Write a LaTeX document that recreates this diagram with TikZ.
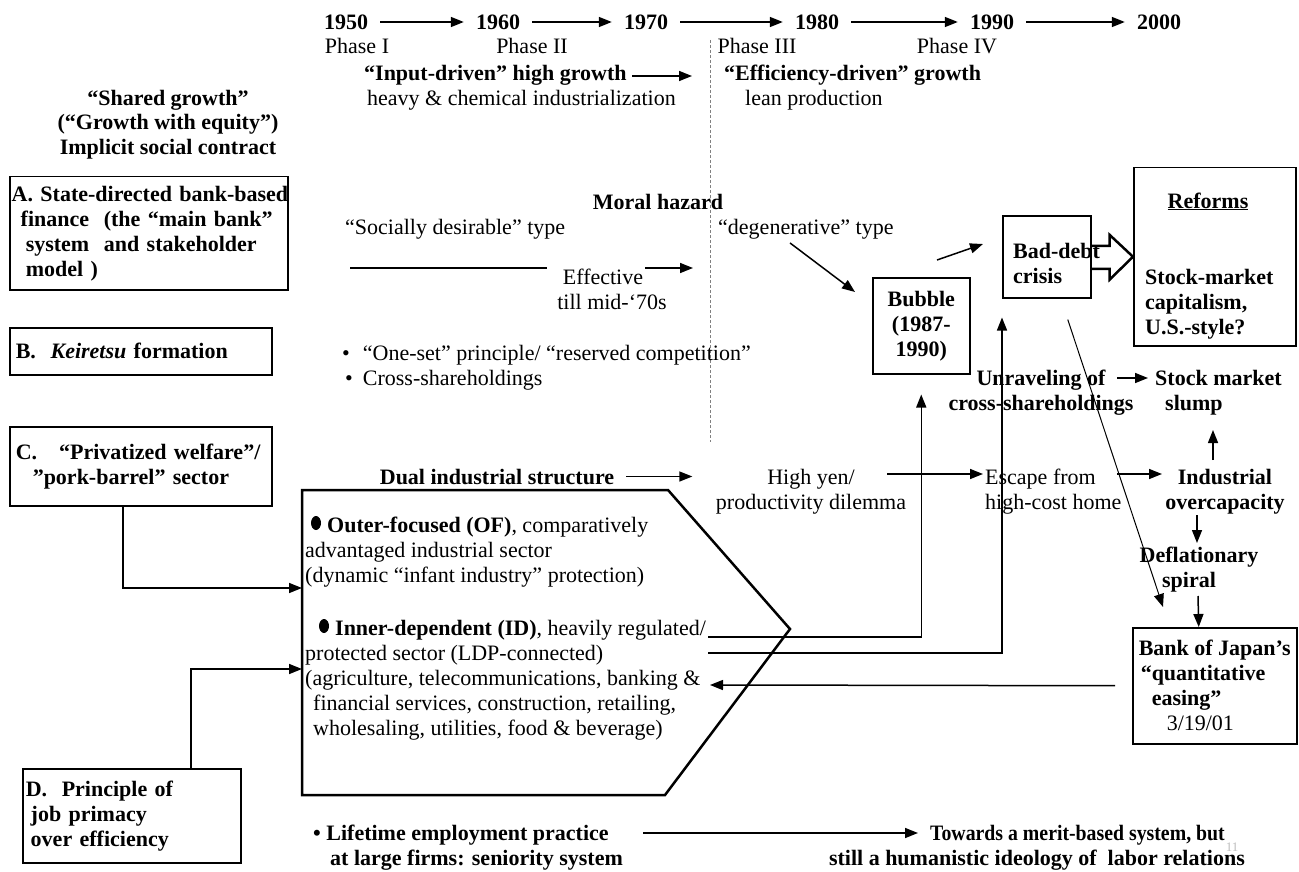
\documentclass[tikz,border=0pt]{standalone}
\usepackage{graphicx}
\usepackage{fontspec}
\setmainfont{Liberation Serif}
\usetikzlibrary{arrows.meta,calc}

\tikzset{
  txt/.style={inner sep=0pt, font=\fontsize{22}{25}\selectfont},
  btxt/.style={txt, font=\fontsize{22}{25}\selectfont\bfseries},
  box/.style={draw, line width=1.5pt},
  lbox/.style={box, btxt, anchor=north west, align=left, inner xsep=3pt},
  yearlbl/.style={btxt, inner xsep=12pt},
  arr/.style={line width=1.5pt, -{Triangle[length=13pt,width=10pt]}},
  thinarr/.style={line width=1pt, -{Triangle[length=13pt,width=10pt]}},
  plain/.style={line width=1.5pt},
}

\begin{document}
\begin{tikzpicture}[x=1pt,y=-1pt]
\useasboundingbox[fill=white] (0,0) rectangle (1299,872);

% time line
\foreach \yr/\xx in {1950/346,1960/498,1970/646,1980/817,1990/992,2000/1159}
  \node[yearlbl] (t\yr) at (\xx,22) {\yr};
\foreach \a/\b in {1950/1960,1960/1970,1970/1980,1980/1990,1990/2000}
  \draw[arr] (t\a) -- (t\b);
\node[txt, anchor=base] (ph1) at (357,54) {Phase I};
\node[txt, anchor=base] (ph2) at (532,54) {Phase II};
\node[txt, anchor=base] (ph3) at (757,54) {Phase III};
\node[txt, anchor=base] (ph4) at (957,54) {Phase IV};
\draw[gray, densely dashed, line width=0.8pt] (710,40) -- (710,442);

% multi-line nodes sit on the baseline of their last line
\node[txt, anchor=base west, align=left] (inp) at (364,106)
  {\textbf{“Input-driven” high growth}\\\hspace*{3pt}heavy \& chemical industrialization};
\draw[arr] ($(inp.base west)+(268,-30)$) -- ++(60,0);
\node[txt, anchor=base west, align=left] (eff) at (724,106)
  {\textbf{“Efficiency-driven” growth}\\\hspace*{21pt}lean production};

\node[btxt, anchor=base, align=center] (shared) at (168,155)
  {“Shared growth”\\(“Growth with equity”)\\Implicit social contract};

% the four institutional boxes
\node[lbox, text width=274pt, inner xsep=2pt, minimum height=113pt] (boxA) at (9,176)
  {\mbox{A.\ State-directed bank-based}\\
   \hspace*{9pt}finance\ \ (the “main bank”\\
   \hspace*{14pt}system\ \ and stakeholder\\
   \hspace*{14pt}model )};
\node[lbox, text width=256pt, minimum height=47pt] (boxB) at (9,327)
  {\hspace*{3pt}B.\ \ \textit{Keiretsu} formation};
\node[lbox, text width=256pt, minimum height=79pt] (boxC) at (9,426)
  {\hspace*{3pt}C.\ \ \ “Privatized welfare”/\\\hspace*{20pt}”pork-barrel” sector};
\node[lbox, text width=212pt, minimum height=94pt] (boxD) at (22,768)
  {D.\ \ Principle of\\\hspace*{5pt}job primacy\\\hspace*{5pt}over efficiency};

% finance row
\node[btxt, anchor=base] (moral) at (658,209) {Moral hazard};
\node[txt, anchor=base west] (socdes) at (345,234) {“Socially desirable” type};
\node[txt, anchor=base west] (degen) at (718,234) {“degenerative” type};
\node[txt, anchor=base, align=center] (effect) at (603,309) {Effective\\\hspace*{18pt}till mid-‘70s};
\draw[plain] ($(socdes.base west)+(5,34)$) -- ++(197,0);
\draw[arr] ($(effect.base)+(42,-41)$) -- ++(48,0);

\node[txt, anchor=base west, align=left] (keir) at (342,385)
  {\textbullet\hspace{13pt}“One-set” principle/ “reserved competition”\\
   \hspace*{3pt}\textbullet\hspace{10pt}Cross-shareholdings};

% crisis part
\node[box, btxt, align=center, minimum width=97pt, minimum height=96pt, anchor=north west] (bubble) at (872,277)
  {Bubble\\(1987-\\1990)};
\node[box, minimum width=88pt, minimum height=82pt, anchor=north west] (debt) at (1002,215) {};
\node[box, minimum width=162pt, minimum height=178pt, anchor=north west] (reforms) at (1133,167) {};
\draw[line width=2.5pt, line join=miter] ($(debt.east)+(0,-11)$) -- ++(18,0) -- ++(0,-11)
  -- (reforms.west) -- ($(debt.east)+(18,23)$) -- ++(0,-11) -- ($(debt.east)+(0,12)$);
\node[btxt, anchor=base west, align=left] (debttxt) at (1013,283) {Bad-debt\\crisis};
\node[btxt, anchor=base] (reftitle) at (1208,208) {\underline{Reforms}};
\node[btxt, anchor=base west, align=left] (reftxt) at (1145,334) {Stock-market\\capitalism,\\U.S.-style?};

\draw[arr] ($(degen.south west)+(72,4)$) -- ($(bubble.north west)+(-17,15)$);
\draw[arr] ($(bubble.north west)+(65,-17)$) -- ($(debt.north west)+(-19,29)$);

\node[btxt, anchor=base, align=center] (unrav) at (1041,410) {Unraveling of\\cross-shareholdings};
\node[btxt, anchor=base west, align=left] (slump) at (1155,410) {Stock market\\\hspace*{10pt}slump};
\draw[arr] ($(slump.base west)+(-38,-32)$) -- ($(slump.base west)+(-7,-32)$);

% dual structure row
\node[btxt, anchor=base] (dual) at (497,484) {Dual industrial structure};
\draw[arr] ($(dual.east)+(12,0)$) -- ++(66,0);
\node[txt, anchor=base, align=center] (hiyen) at (811,509) {High yen/\\productivity dilemma};
\node[txt, anchor=base west, align=left] (escape) at (985,509) {Escape from\\high-cost home};
\node[btxt, anchor=base, align=center] (indust) at (1225,509) {Industrial\\overcapacity};
\node[btxt, anchor=base, align=center] (defl) at (1199,587) {Deflationary\\spiral\hspace*{20pt}};
\node[box, btxt, align=left, minimum width=164pt, minimum height=116pt, anchor=north west] (boj) at (1132,627)
  {Bank of Japan’s\\
   \hspace*{2pt}“quantitative\\
   \hspace*{13pt}easing”\\
   \hspace*{28pt}{\mdseries 3/19/01}};
\draw[arr] ($(hiyen.base)+(76,-35)$) -- ($(escape.base west)+(-2,-35)$);
\draw[arr] ($(escape.base west)+(132,-35)$) -- ($(indust.base)+(-63,-35)$);
\draw[arr] ($(indust.base)+(-28,6)$) -- ($(indust.base)+(-28,34)$);
\draw[arr] ($(defl.base)+(-1,9)$) -- ($(boj.north)+(-16,0)$);
\draw[arr] ($(indust.base)+(-12,-49)$) -- ($(slump.base west)+(58,20)$);
\draw[thinarr] ($(debt.south)+(21,21)$) -- ($(boj.north west)+(31,-20)$);

% dual industrial structure block
\draw[line width=2.5pt, line join=miter] (302,490) -- (668,490) -- (790,629) -- (665,795) -- (302,795) -- cycle;
\fill (316,523) ellipse (5 and 7);
\fill (324,626) ellipse (5 and 7);
\node[txt, anchor=base west, align=left] (sectors) at (305,735)
  {\hspace*{22pt}\textbf{Outer-focused (OF)}, comparatively\\
   advantaged industrial sector\\
   (dynamic “infant industry” protection)\\[28pt]
   \hspace*{30pt}\textbf{Inner-dependent (ID)}, heavily regulated/\\
   protected sector (LDP-connected)\\
   (agriculture, telecommunications, banking \&\\
   \hspace*{8pt}financial services, construction, retailing,\\
   \hspace*{8pt}wholesaling, utilities, food \& beverage)};
\coordinate (ofIn) at (302,588);
\coordinate (idIn) at (302,669);
\coordinate (idBack) at (710,685);
\coordinate (bubOut) at (708,637);
\coordinate (debtOut) at (708,653);
\draw[arr] ($(boxC.south)+(-18,0)$) |- (ofIn);
\draw[arr] ($(boxD.north)+(59,0)$) |- (idIn);
\draw[arr, shorten <=17pt] (boj.west) -- (idBack);
\draw[arr, shorten >=20pt] (bubOut) -| (bubble.south);
\draw[arr, shorten >=19pt] (debtOut) -| (debt.south west);

% employment row
\node[btxt, anchor=base west, align=left] (lifet) at (313,865)
  {\textbullet\ Lifetime employment practice\\\hspace*{17pt}at large firms: seniority system};
\node[btxt, anchor=base east, align=right] (merit) at (1245,865)
  {\scalebox{0.9}[1]{Towards a merit-based system, but}\hspace*{20pt}\\still a humanistic ideology of\ \ labor relations};
\draw[arr] ($(lifet.base west)+(330,-32)$) -- ($(merit.base east)+(-327,-32)$);
\node[txt, gray!50, font=\fontsize{13}{13}\selectfont] (pgno) at (1232,847) {11};
\end{tikzpicture}
\end{document}
